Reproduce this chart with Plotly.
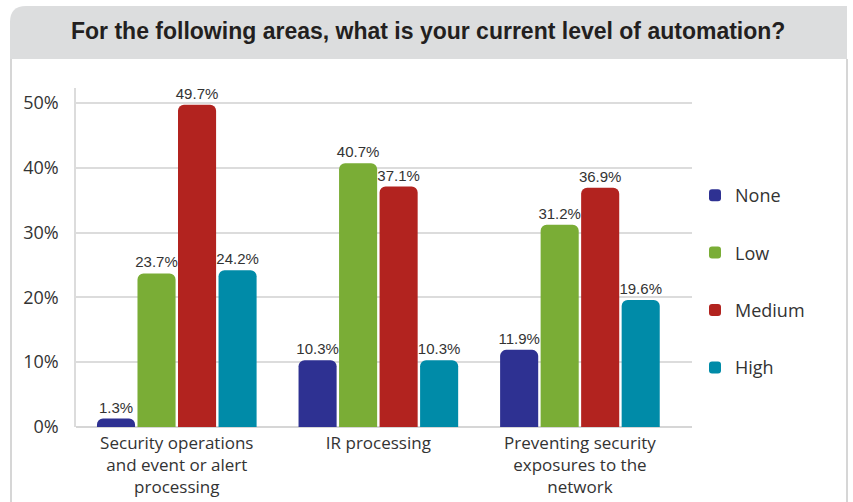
import plotly.graph_objects as go

# Survey results: current level of automation by area
categories = [
    "Security operations<br>and event or alert<br>processing",
    "IR processing",
    "Preventing security<br>exposures to the<br>network",
]
levels = ["None", "Low", "Medium", "High"]
none_vals = [1.3, 10.3, 11.9]
low_vals = [23.7, 40.7, 31.2]
medium_vals = [49.7, 37.1, 36.9]
high_vals = [24.2, 10.3, 19.6]
colors = ["#2e3192", "#7aad36", "#b2231f", "#008ba8"]
y_ticks = [0, 10, 20, 30, 40, 50]
y_tick_text = ["0%", "10%", "20%", "30%", "40%", "50%"]
title_text = "For the following areas, what is your current level of automation?"

W, H = 853, 502
M_L, M_R, M_T, M_B = 76, 161, 88, 75
PW, PH = W - M_L - M_R, H - M_T - M_B


def px(x):
    return (x - M_L) / PW


def py(y):
    return (H - M_B - y) / PH


label_font = "Liberation Sans Narrow, Arial Narrow, sans-serif"
body_font = "Open Sans, Noto Sans, sans-serif"

fig = go.Figure()
for name, vals, col in zip(levels, [none_vals, low_vals, medium_vals, high_vals], colors):
    fig.add_trace(go.Bar(
        name=name,
        x=categories,
        y=vals,
        marker=dict(color=col, line=dict(width=0)),
        text=[f"{v:.1f}%" for v in vals],
        textposition="outside",
        constraintext="none",
        textfont=dict(family=label_font, size=15, color="#333333"),
        cliponaxis=False,
        legendgroup=name,
    ))

# Title band with rounded top-left corner, and side rules of the frame
r = 16
x0, x1, y0, y1 = 10, 847, 6, 59
band = (
    f"M {px(x0)},{py(y1)} L {px(x0)},{py(y0 + r)} "
    f"Q {px(x0)},{py(y0)} {px(x0 + r)},{py(y0)} "
    f"L {px(x1)},{py(y0)} L {px(x1)},{py(y1)} Z"
)
shapes = [
    dict(type="path", path=band, xref="paper", yref="paper",
         fillcolor="#dcddde", line=dict(width=0), layer="below"),
    dict(type="line", xref="paper", yref="paper", x0=px(11), x1=px(11),
         y0=py(y1), y1=py(H + 5), line=dict(color="#d6d6d6", width=2)),
    dict(type="line", xref="paper", yref="paper", x0=px(847), x1=px(847),
         y0=py(y1), y1=py(H + 5), line=dict(color="#d6d6d6", width=2)),
]

fig.update_layout(
    width=W, height=H,
    margin=dict(l=M_L, r=M_R, t=M_T, b=M_B),
    paper_bgcolor="white", plot_bgcolor="white",
    barmode="group", bargap=0.196, bargroupgap=0.06,
    barcornerradius=6,
    shapes=shapes,
    annotations=[dict(
        text=f"<b>{title_text}</b>", xref="paper", yref="paper",
        x=px(428), y=py(31), xanchor="center", yanchor="middle",
        showarrow=False,
        font=dict(family=label_font, size=23, color="#231f20"),
    )],
    font=dict(family=body_font, size=18, color="#333333"),
    legend=dict(
        x=px(695), y=py(177), xanchor="left", yanchor="top",
        font=dict(family=body_font, size=18, color="#333333"),
        tracegroupgap=31, itemwidth=30, bgcolor="rgba(0,0,0,0)",
    ),
    showlegend=True,
)
fig.update_xaxes(
    range=[-0.5, 2.556], showgrid=False, showline=False, zeroline=False,
    ticks="", ticklabelstandoff=4, automargin=False,
    tickfont=dict(family=body_font, size=17, color="#333333"),
)
fig.update_yaxes(
    range=[0, 52.3], tickvals=y_ticks, ticktext=y_tick_text,
    showgrid=True, gridcolor="#dcdcdc", gridwidth=1.5,
    zeroline=True, zerolinecolor="#d6d6d6", zerolinewidth=2,
    showline=True, linecolor="#dcdcdc", linewidth=1.5,
    ticks="", ticklabelstandoff=12, automargin=False,
    tickfont=dict(family=body_font, size=18, color="#333333"),
)

fig.write_html("out.html")
